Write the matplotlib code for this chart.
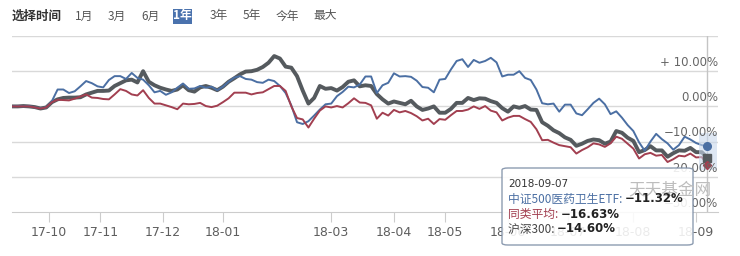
import numpy as np
import matplotlib
matplotlib.use('Agg')
import matplotlib.pyplot as plt
from matplotlib.patches import FancyBboxPatch, Rectangle
from matplotlib.transforms import blended_transform_factory

plt.rcParams['font.family'] = ['Noto Sans CJK SC', 'DejaVu Sans']

# trading-day index, one reading every 2 trading days (2017-09 .. 2018-09-07)
days = np.arange(0, 245, 2)

etf = [0, 0.1, 0, 0.1, -0.3, -0.5, -0.3, 1.5, 4.8, 4.8,
       3.8, 4.3, 5.7, 7.2, 6.6, 5.7, 5.4, 7.5, 8.6, 8.6,
       7.8, 9.5, 8.1, 7.6, 6.0, 4.0, 4.4, 3.3, 4.0, 5.3,
       6.5, 5.0, 5.1, 5.8, 5.3, 5.6, 4.6, 5.6, 7.0, 8.2,
       8.6, 7.8, 7.6, 6.9, 6.7, 7.6, 7.2, 5.8, 3.8, 0.3,
       -4.5, -5.0, -4.2, -2.6, -0.9, 0.6, 0.8, 2.9, 4.1, 5.6,
       5.4, 6.2, 8.5, 8.5, 3.8, 6.0, 6.7, 9.4, 8.5, 8.6,
       8.4, 7.3, 5.5, 5.3, 4.0, 7.6, 7.8, 10.5, 12.9, 13.4,
       11.2, 13.2, 12.4, 12.9, 13.8, 12.5, 8.5, 9.0, 9.0, 10.0,
       8.1, 7.5, 4.8, 0.9, 0.6, 0.8, -1.5, 0.5, 0.5, -2.0,
       -2.5, -0.8, 1.0, 2.2, 0.6, -2.2, -1.4, -3.2, -5.3, -7.0,
       -10.2, -12.6, -10.0, -7.8, -9.3, -10.5, -12.3, -11.0, -8.6, -9.4,
       -10.4, -11.0, -11.32]

hs300 = [0, 0, 0.1, 0, -0.2, -0.6, -0.3, 1.2, 2.0, 2.4,
         2.5, 2.5, 2.6, 3.4, 3.9, 4.4, 4.4, 4.5, 5.8, 6.6,
         7.4, 7.6, 6.8, 10.0, 7.0, 6.0, 5.3, 4.8, 4.4, 4.8,
         6.0, 4.6, 4.2, 5.4, 5.8, 5.3, 4.6, 5.6, 7.0, 8.0,
         9.1, 9.9, 10.0, 10.4, 11.2, 12.4, 14.3, 13.6, 11.3, 11.0,
         8.6, 4.5, 0.8, 2.4, 5.8, 5.0, 5.2, 4.5, 5.5, 7.0,
         7.4, 5.7, 6.0, 5.8, 3.5, 2.0, 0.8, 1.4, 1.0, 0.6,
         1.6, 0.0, -1.0, -0.6, 0.0, -1.8, -1.8, -0.7, 1.0, 1.0,
         2.4, 1.8, 2.3, 2.2, 1.5, 1.0, -0.5, -1.5, 0.0, -0.4,
         0.1, -0.9, -1.0, -4.5, -5.5, -6.8, -7.6, -8.8, -9.5, -11.2,
         -10.6, -9.8, -9.4, -9.6, -10.6, -10.0, -7.0, -7.5, -8.9, -9.8,
         -13.0, -12.4, -11.3, -12.5, -12.5, -14.3, -13.3, -12.5, -12.6, -11.8,
         -13.0, -13.0, -14.60]

peer_avg = [0, 0, 0, 0, -0.3, -0.6, -0.3, 1.2, 1.9, 1.8,
            1.7, 2.2, 2.8, 3.4, 2.5, 2.4, 2.1, 2.0, 3.4, 4.9,
            4.4, 3.4, 3.1, 4.6, 2.4, 0.8, 0.8, 0.3, -0.2, -0.8,
            0.8, 0.6, 0.7, 1.0, 0.1, -0.2, 0.2, 1.2, 2.3, 3.9,
            3.9, 3.9, 3.4, 3.8, 4.0, 4.9, 5.8, 5.8, 4.4, 0.0,
            -3.3, -3.7, -6.0, -3.5, -1.2, 0.0, -0.3, 0.1, -0.3, 0.9,
            2.3, 1.1, 1.0, 0.3, -3.5, -1.8, -2.6, -1.0, -1.7, -1.3,
            -1.9, -2.8, -4.0, -3.5, -5.0, -3.6, -3.8, -2.5, -1.3, -1.3,
            -0.9, 0.0, -0.7, 0.1, -1.2, -1.7, -4.0, -3.2, -2.7, -2.7,
            -3.6, -4.4, -6.5, -9.6, -9.5, -10.3, -11.0, -11.3, -11.6, -13.4,
            -12.4, -11.6, -10.5, -10.8, -11.5, -10.5, -8.6, -9.2, -10.6, -12.0,
            -14.8, -13.6, -13.2, -14.0, -13.8, -15.8, -15.0, -14.0, -14.2, -13.4,
            -14.5, -14.4, -16.63]

month_ticks = [13, 31, 53, 74, 112, 134, 152, 174, 195, 218, 240]
month_labels = ['17-10', '17-11', '17-12', '18-01', '18-03', '18-04',
                '18-05', '18-06', '18-07', '18-08', '18-09']
y_ticks = [20, 10, 0, -10, -20, -30]
y_labels = ['', '+ 10.00%', '0.00%', '−10.00%', '−20.00%', '−30.00%']
buttons = ['1月', '3月', '6月', '1年', '3年', '5年', '今年', '最大']
tip_date = '2018-09-07'
tip_names = ['中证500医药卫生ETF: ', '同类平均: ', '沪深300: ']
tip_values = ['−11.32%', '−16.63%', '−14.60%']

c_blue, c_red, c_gray = '#4b6fa3', '#a23f50', '#555a5e'

fig = plt.figure(figsize=(7.4, 2.56), dpi=100)
ax = fig.add_axes([12 / 740, 1 - 212 / 256, 706 / 740, 176 / 256])
ax.set_xlim(0, 247.7)
ax.set_ylim(-30, 20)

for y in y_ticks[:-1]:
    ax.axhline(y, color='#d9d9d9', lw=1, zorder=0)
for s in ['top', 'right', 'left']:
    ax.spines[s].set_visible(False)
ax.spines['bottom'].set_color('#cccccc')

ax.plot(days, etf, color=c_blue, lw=1.4, zorder=3)
ax.plot(days, peer_avg, color=c_red, lw=1.4, zorder=3)
ax.plot(days, hs300, color=c_gray, lw=2.8, zorder=2)

# crosshair and hover markers
ax.axvline(days[-1], color='#c4c4c4', lw=1, zorder=1)
ax.add_patch(Rectangle((days[-1] - 3, -18.0), 6.5, 10.5, color='#c9d8ec',
                       alpha=0.6, zorder=4, lw=0))
ax.plot(days[-1], etf[-1], 'o', color=c_blue, ms=5.5, zorder=5)
ax.plot(days[-1], hs300[-1], 's', color=c_gray, ms=5.5, zorder=5)
ax.plot(days[-1], peer_avg[-1], 'D', color=c_red, ms=4, zorder=5)

ax.set_yticks([])
ax.set_xticks(month_ticks)
ax.set_xticklabels(month_labels, fontsize=9, color='#5e5e5e', family='DejaVu Sans')
ax.tick_params(axis='x', length=7, color='#cccccc', pad=3)

tr = blended_transform_factory(ax.transAxes, ax.transData)
for y, lab in zip(y_ticks, y_labels):
    ax.text(1.0, y + 0.6, lab, transform=tr, ha='right', va='bottom',
            fontsize=8.5, color='#666666', family='DejaVu Sans', zorder=6)

# top range selector
fig.text(12 / 740, 1 - 16 / 256, '选择时间', fontsize=9, fontweight='bold',
         color='#333333', va='center')
btn_x = [75, 108, 141, 173, 210, 243, 276, 313]
for bx, b in zip(btn_x, buttons):
    if b == '1年':
        fig.add_artist(Rectangle((bx / 740, 1 - 24 / 256), 19 / 740, 15 / 256,
                                 transform=fig.transFigure, color='#4a72ad', lw=0))
        fig.text((bx + 9.5) / 740, 1 - 16 / 256, b, fontsize=8.5, fontweight='bold',
                 color='white', ha='center', va='center')
    else:
        fig.text(bx / 740, 1 - 16 / 256, b, fontsize=8.5, color='#555555', va='center')

# tooltip
tip = FancyBboxPatch((502 / 740, 1 - 245 / 256), 191 / 740, 77 / 256,
                     boxstyle='round,pad=0,rounding_size=0.008',
                     transform=fig.transFigure, facecolor='white', alpha=0.88,
                     edgecolor='#7d8ea6', lw=1, zorder=10)
fig.add_artist(tip)
fig.text(628 / 740, 1 - 190 / 256, '天天基金网', fontsize=12, color='#bdbdbd',
         ha='left', va='center', zorder=11)
fig.text(508 / 740, 1 - 184 / 256, tip_date, fontsize=7.5, color='#333333',
         va='center', zorder=12, family='DejaVu Sans')
name_colors = [c_blue, c_red, '#444444']
for i, (n, v, c) in enumerate(zip(tip_names, tip_values, name_colors)):
    ty = 1 - (199 + 15 * i) / 256
    t = fig.text(508 / 740, ty, n, fontsize=8.5, color=c, va='center', zorder=12)
    fig.canvas.draw()
    bb = t.get_window_extent()
    fig.text(bb.x1 / 740, ty, v, fontsize=8.5, color='#222222', fontweight='bold',
             va='center', zorder=12, family='DejaVu Sans')

fig.savefig('out.png', dpi=100)
